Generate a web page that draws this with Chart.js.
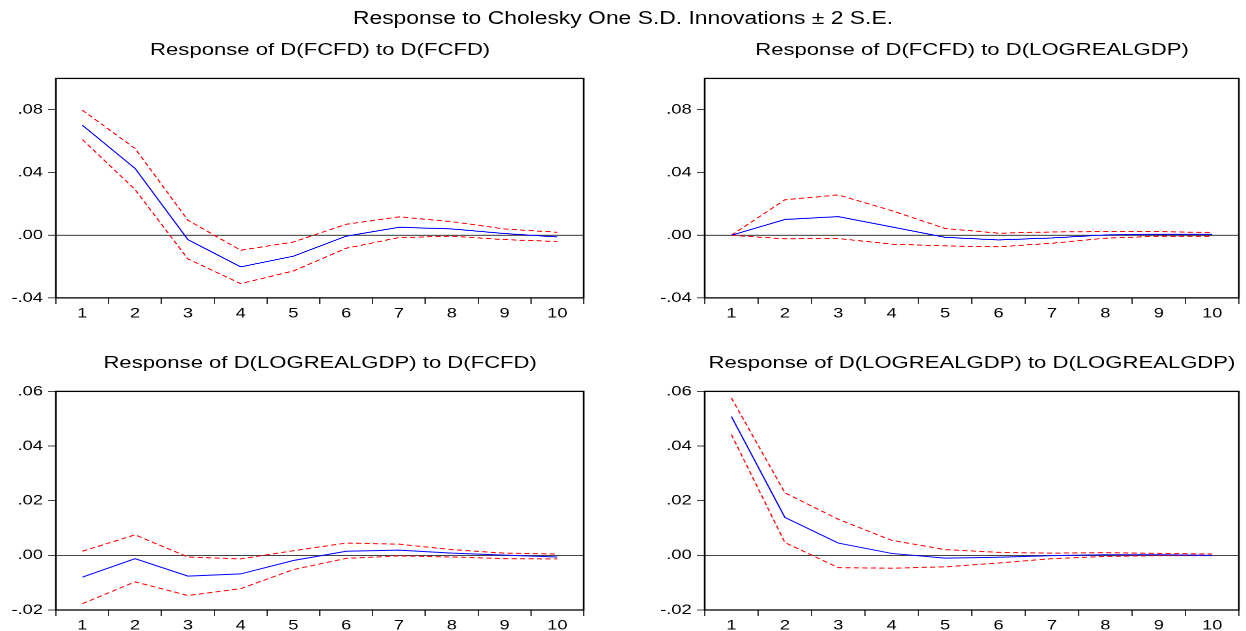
<!DOCTYPE html>
<html>
<head>
<meta charset="utf-8">
<script src="https://cdn.jsdelivr.net/npm/chart.js@4.4.1/dist/chart.umd.min.js"></script>
<style>
  html, body { margin:0; padding:0; background:#fff; overflow:hidden; width:1246px; height:631px; }
  #wrap { position:absolute; left:0; top:0; width:958.46px; height:631px; transform:scaleX(1.3); transform-origin:0 0; font-family:"Liberation Sans", Arial, sans-serif; color:#000; }
  .t { position:absolute; text-align:center; white-space:nowrap; line-height:1; }
  canvas { position:absolute; }
</style>
</head>
<body>
<div id="wrap"></div>
<script>
// ---------------- DATA ----------------
const mainTitle = "Response to Cholesky One S.D. Innovations \u00B1 2 S.E.";
const periods = ["1","2","3","4","5","6","7","8","9","10"];

const title1 = "Response of D(FCFD) to D(FCFD)";
const resp1 = [0.0702, 0.0426, -0.0028, -0.0202, -0.0134, -0.0006, 0.0051, 0.0040, 0.0011, -0.0011];
const upper1 = [0.0798, 0.0553, 0.0096, -0.0096, -0.0043, 0.0070, 0.0117, 0.0087, 0.0040, 0.0019];
const lower1 = [0.0611, 0.0291, -0.0151, -0.0309, -0.0228, -0.0083, -0.0015, -0.0006, -0.0028, -0.0040];

const title2 = "Response of D(FCFD) to D(LOGREALGDP)";
const resp2 = [0.0000, 0.0100, 0.0119, 0.0053, -0.0013, -0.0030, -0.0017, 0.0002, 0.0006, 0.0006];
const upper2 = [0.0000, 0.0226, 0.0257, 0.0157, 0.0043, 0.0013, 0.0021, 0.0023, 0.0023, 0.0017];
const lower2 = [0.0000, -0.0023, -0.0021, -0.0057, -0.0068, -0.0074, -0.0051, -0.0019, -0.0006, -0.0006];

const title3 = "Response of D(LOGREALGDP) to D(FCFD)";
const resp3 = [-0.0080, -0.0012, -0.0076, -0.0068, -0.0019, 0.0015, 0.0019, 0.0008, 0.0001, -0.0006];
const upper3 = [0.0015, 0.0075, -0.0006, -0.0013, 0.0017, 0.0045, 0.0041, 0.0021, 0.0008, 0.0005];
const lower3 = [-0.0177, -0.0097, -0.0147, -0.0122, -0.0052, -0.0011, -0.0002, -0.0006, -0.0012, -0.0013];

const title4 = "Response of D(LOGREALGDP) to D(LOGREALGDP)";
const resp4 = [0.0508, 0.0139, 0.0045, 0.0007, -0.0010, -0.0007, -0.0001, 0.0002, 0.0002, 0.0000];
const upper4 = [0.0576, 0.0229, 0.0132, 0.0055, 0.0021, 0.0011, 0.0008, 0.0010, 0.0007, 0.0005];
const lower4 = [0.0442, 0.0047, -0.0045, -0.0047, -0.0042, -0.0028, -0.0012, -0.0004, -0.0001, -0.0001];

const yTicksTop = [-0.04, 0.00, 0.04, 0.08];
const yLabelsTop = ["-.04", ".00", ".04", ".08"];
const yRangeTop = [-0.04, 0.10];
const yTicksBottom = [-0.02, 0.00, 0.02, 0.04, 0.06];
const yLabelsBottom = ["-.02", ".00", ".02", ".04", ".06"];
const yRangeBottom = [-0.02, 0.06];

// ---------------- LAYOUT ----------------
const S = 1.3; // horizontal stretch
const wrap = document.getElementById('wrap');
const FONT = '"Liberation Sans", Arial, sans-serif';

function addText(txt, cx, cy, size) {
  const d = document.createElement('div');
  d.className = 't';
  d.textContent = txt;
  d.style.fontSize = size + 'px';
  d.style.left = (cx - 400) + 'px';
  d.style.width = '800px';
  d.style.top = (cy - 0.49 * size) + 'px';
  wrap.appendChild(d);
}

const boxPlugin = {
  id: 'box',
  afterDraw(chart) {
    const { ctx, chartArea: a } = chart;
    ctx.save();
    ctx.strokeStyle = '#000';
    ctx.lineWidth = 1.3;
    ctx.strokeRect(a.left, a.top, a.right - a.left, a.bottom - a.top);
    ctx.restore();
  }
};

function panel(rect, title, resp, upper, lower, yTicks, yLabels, yRange) {
  const axisW = 40, padTop = 12, padRight = 4, axisH = 26;
  const left = rect.l / S, right = rect.r / S;
  const cLeft = left - axisW;
  const cTop = rect.t - padTop;
  const w = right + padRight - cLeft;
  const h = rect.b - cTop + axisH;
  addText(title, (left + right) / 2, rect.t - 28.8, 17);
  const cv = document.createElement('canvas');
  cv.width = w; cv.height = h;
  cv.style.left = cLeft + 'px';
  cv.style.top = cTop + 'px';
  cv.style.width = w + 'px';
  cv.style.height = h + 'px';
  wrap.appendChild(cv);
  const dash = { borderColor: '#ff0000', borderWidth: 1, borderDash: [4, 2.5], pointRadius: 0, tension: 0, fill: false };
  new Chart(cv, {
    type: 'line',
    data: {
      labels: periods,
      datasets: [
        { label: 'Response', data: resp, borderColor: '#0000ff', borderWidth: 1, pointRadius: 0, tension: 0, fill: false },
        Object.assign({ label: '+2 S.E.', data: upper }, dash),
        Object.assign({ label: '-2 S.E.', data: lower }, dash)
      ]
    },
    options: {
      responsive: false,
      animation: false,
      devicePixelRatio: 2,
      layout: { padding: { top: padTop, right: padRight, left: 0, bottom: 0 } },
      plugins: { legend: { display: false }, tooltip: { enabled: false }, title: { display: false } },
      scales: {
        x: {
          type: 'category',
          offset: true,
          grid: { offset: true, drawOnChartArea: false, color: '#333', tickLength: 6, lineWidth: 1 },
          border: { display: false },
          ticks: { font: { family: FONT, size: 14 }, color: '#000', padding: 1, maxRotation: 0, autoSkip: false },
          afterFit(s) { s.height = axisH; }
        },
        y: {
          min: yRange[0], max: yRange[1],
          afterBuildTicks(s) { s.ticks = yTicks.map(v => ({ value: v })); },
          grid: {
            drawOnChartArea: true,
            color: c => (c.tick && c.tick.value === 0) ? '#444' : 'rgba(0,0,0,0)',
            tickColor: '#444', tickLength: 6, lineWidth: 1
          },
          border: { display: false },
          ticks: {
            font: { family: FONT, size: 14 }, color: '#000', padding: 4,
            callback: (v) => { const i = yTicks.indexOf(v); return i >= 0 ? yLabels[i] : ''; }
          },
          afterFit(s) { s.width = axisW; }
        }
      }
    },
    plugins: [boxPlugin]
  });
}

addText(mainTitle, 623 / S, 18.3, 17.6);
panel({ l: 56, r: 584.3, t: 78.3, b: 297.7 }, title1, resp1, upper1, lower1, yTicksTop, yLabelsTop, yRangeTop);
panel({ l: 705, r: 1239, t: 78.3, b: 297.7 }, title2, resp2, upper2, lower2, yTicksTop, yLabelsTop, yRangeTop);
panel({ l: 56, r: 584.3, t: 390.7, b: 610.5 }, title3, resp3, upper3, lower3, yTicksBottom, yLabelsBottom, yRangeBottom);
panel({ l: 705, r: 1239, t: 390.7, b: 610.5 }, title4, resp4, upper4, lower4, yTicksBottom, yLabelsBottom, yRangeBottom);
</script>
</body>
</html>
